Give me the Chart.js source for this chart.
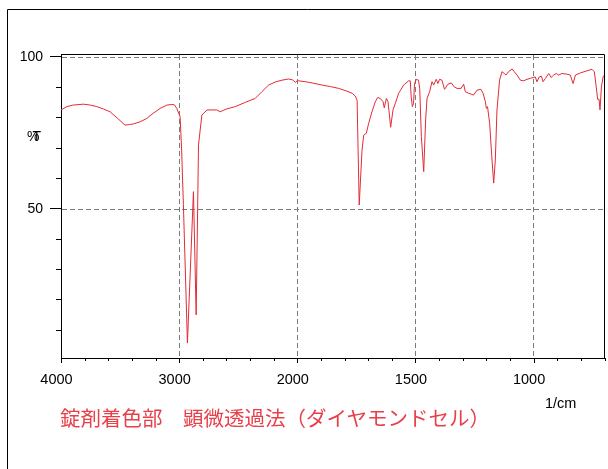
<!DOCTYPE html>
<html><head><meta charset="utf-8">
<script src="https://cdn.jsdelivr.net/npm/chart.js@4/dist/chart.umd.min.js"></script>
<style>
html,body{margin:0;padding:0;background:#fff;}
#wrap{position:relative;width:608px;height:469px;overflow:hidden;background:#fff;}
canvas{position:absolute;left:0;top:0;}
.t{position:absolute;font-family:"Liberation Sans",Arial,sans-serif;color:#000;white-space:nowrap;line-height:1;}
</style></head><body>
<div id="wrap">
<canvas id="c" width="608" height="469"></canvas>
<div class="t" id="ylab" style="left:27px;top:129px;font-size:14px;letter-spacing:-7px">%T</div>
<div class="t" id="xunit" style="left:545px;top:396px;font-size:14.5px">1/cm</div>
<div class="t" id="cap" style="left:60px;top:407px;font-size:20.5px;font-family:'Noto Sans CJK JP',sans-serif;color:#e8404a">錠剤着色部　顕微透過法（ダイヤモンドセル）</div>
</div>
<script>
// ---- data (wavenumber in 1/cm, transmittance in %T) ----
const WAVENUMBER = [4000,3950,3900,3810,3750,3697,3640,3585,3520,3458,3420,3387,3330,3274,3220,3161,3104,3062,3040,3020,2992,2979,2964,2930,2879,2856,2836,2808,2765,2681,2653,2600,2525,2440,2356,2300,2243,2180,2130,2074,2040,2017,2000,1994,1950,1895,1860,1825,1790,1768,1755,1747,1738,1726,1719,1708,1698,1684,1670,1660,1649,1637,1632,1623,1616,1605,1595,1585,1571,1550,1529,1522,1518,1513,1508,1504,1496,1487,1482,1475,1465,1457,1451,1440,1430,1423,1412,1405,1398,1388,1377,1362,1348,1336,1324,1307,1296,1289,1275,1264,1254,1240,1223,1214,1204,1200,1195,1186,1176,1169,1162,1155,1144,1134,1124,1117,1106,1091,1082,1070,1056,1042,1028,1014,1002,993,986,976,967,960,950,936,926,915,904,894,880,859,845,833,823,802,774,753,743,735,729,723,719,713,706,700];
const TRANSMITTANCE = [82.7,83.8,84.3,84.6,84.3,83.8,83.0,82.1,79.9,77.7,77.9,78.1,78.8,79.9,81.6,83.2,84.3,84.5,84.4,83.2,80.5,69.5,51.5,5.9,55.8,15.2,71.2,81.0,82.7,82.7,82.1,83.0,83.8,85.2,86.5,88.7,90.9,92.0,92.5,92.9,92.6,91.8,92.3,92.3,91.8,90.9,90.4,89.8,88.9,88.2,87.3,85.9,51.4,69.5,74.4,75.0,78.3,82.1,85.4,86.8,86.5,85.4,83.4,86.5,85.4,77.0,82.7,84.9,88.2,90.9,92.3,92.3,87.0,83.8,84.9,91.4,92.8,92.5,89.8,73.9,62.4,79.4,86.5,88.7,92.0,90.9,92.8,91.4,92.8,92.5,89.5,91.2,91.6,90.3,89.8,89.8,91.2,88.7,88.2,87.9,87.6,89.2,89.5,88.2,85.4,83.2,83.8,78.3,66.2,58.6,66.2,82.7,92.5,95.3,94.7,94.2,95.3,96.2,95.3,94.2,92.5,92.3,92.8,93.1,93.4,93.6,92.0,93.6,93.8,92.0,93.1,94.7,93.4,94.2,94.7,94.2,94.7,94.5,94.2,91.4,94.2,94.9,95.6,96.1,95.3,90.3,86.2,86.2,82.7,90.3,93.6,94.2];

const X_TICKS = [4000,3800,3600,3400,3200,3000,2800,2600,2400,2200,2000,1900,1800,1700,1600,1500,1400,1300,1200,1100,1000,900,800,700];
const X_LABELS = [4000,3000,2000,1500,1000];
const X_GRID = [3000,2000,1500,1000];
const Y_TICKS = [10,20,30,40,50,60,70,80,90,100];
const Y_LABELS = [50,100];
const Y_GRID = [50,100];

// ---- split wavenumber axis (4000-2000 compressed 2x vs 2000-700) ----
const Lin = Chart.LinearScale || Chart.registry.getScale('linear');
class SplitWnScale extends Lin {
  _pos(v){ return v >= 2000 ? (4000 - v) / 1000 : 2 + (2000 - v) / 500; }
  getPixelForValue(v){
    const pmax = this._pos(this.min);
    return this.left + (this.right - this.left) * this._pos(v) / pmax;
  }
  getValueForPixel(px){
    const pmax = this._pos(this.min);
    const p = (px - this.left) / (this.right - this.left) * pmax;
    return p <= 2 ? 4000 - 1000 * p : 2000 - 500 * (p - 2);
  }
}
SplitWnScale.id = 'splitwn';
SplitWnScale.defaults = Lin.defaults;
Chart.register(SplitWnScale);

const decor = {
  id: 'decor',
  afterDraw(chart){
    const {ctx, chartArea: a, scales: {x, y}} = chart;
    ctx.save();
    ctx.strokeStyle = '#000';
    ctx.lineWidth = 1;
    ctx.setLineDash([]);
    // outer frame
    ctx.beginPath();
    ctx.moveTo(7.5, 469); ctx.lineTo(7.5, 9.5); ctx.lineTo(608, 9.5);
    ctx.stroke();
    // plot box top and right
    const top = Math.floor(a.top) - 0.5, right = Math.round(a.right) - 0.5;
    ctx.beginPath();
    ctx.moveTo(a.left, top); ctx.lineTo(right, top); ctx.lineTo(right, a.bottom);
    ctx.stroke();
    // x tick marks
    ctx.beginPath();
    x.ticks.forEach(t => {
      const px = Math.round(x.getPixelForValue(t.value)) + 0.5;
      const len = X_LABELS.includes(t.value) ? 5 : 3;
      ctx.moveTo(px, a.bottom); ctx.lineTo(px, a.bottom + len);
    });
    // y tick marks
    y.ticks.forEach(t => {
      const py = Math.round(y.getPixelForValue(t.value)) - 0.5;
      const len = Y_LABELS.includes(t.value) ? 11 : 5;
      ctx.moveTo(a.left - len, py); ctx.lineTo(a.left, py);
    });
    ctx.stroke();
    ctx.restore();
  }
};

new Chart(document.getElementById('c'), {
  type: 'line',
  data: {
    datasets: [{
      data: WAVENUMBER.map((w, i) => ({x: w, y: TRANSMITTANCE[i]})),
      borderColor: '#e32b36',
      borderWidth: 1,
      pointRadius: 0,
      tension: 0,
      fill: false
    }]
  },
  options: {
    responsive: false,
    animation: false,
    devicePixelRatio: 1,
    layout: {padding: {left: 0, top: 55, right: 3.5, bottom: 0}},
    plugins: {legend: {display: false}, tooltip: {enabled: false}},
    scales: {
      x: {
        type: 'splitwn', min: 700, max: 4000,
        afterFit(s){ s.height = 111; s.paddingLeft = 0; s.paddingRight = 0; },
        afterBuildTicks(s){ s.ticks = X_TICKS.map(v => ({value: v})); },
        ticks: {
          autoSkip: false, maxRotation: 0, minRotation: 0, padding: 13, labelOffset: -4.5,
          color: '#000', font: {family: 'Liberation Sans', size: 14.5},
          callback: v => X_LABELS.includes(v) ? String(v) : ''
        },
        grid: {
          drawTicks: false, lineWidth: 1,
          color: c => (c.tick && X_GRID.includes(c.tick.value)) ? '#7a7a7a' : 'rgba(0,0,0,0)'
        },
        border: {display: true, color: '#000', width: 1, dash: [5, 3]}
      },
      y: {
        type: 'linear', min: 1, max: 100.8,
        afterFit(s){ s.width = 61; s.paddingTop = 0; s.paddingBottom = 0; },
        afterBuildTicks(s){ s.ticks = Y_TICKS.map(v => ({value: v})); },
        ticks: {
          autoSkip: false, padding: 18, color: '#000',
          font: {family: 'Liberation Sans', size: 14},
          callback: v => Y_LABELS.includes(v) ? String(v) : ''
        },
        grid: {
          drawTicks: false, lineWidth: 1,
          color: c => (c.tick && Y_GRID.includes(c.tick.value)) ? '#7a7a7a' : 'rgba(0,0,0,0)'
        },
        border: {display: true, color: '#000', width: 1, dash: [5, 3]}
      }
    }
  },
  plugins: [decor]
});
</script>
</body></html>
